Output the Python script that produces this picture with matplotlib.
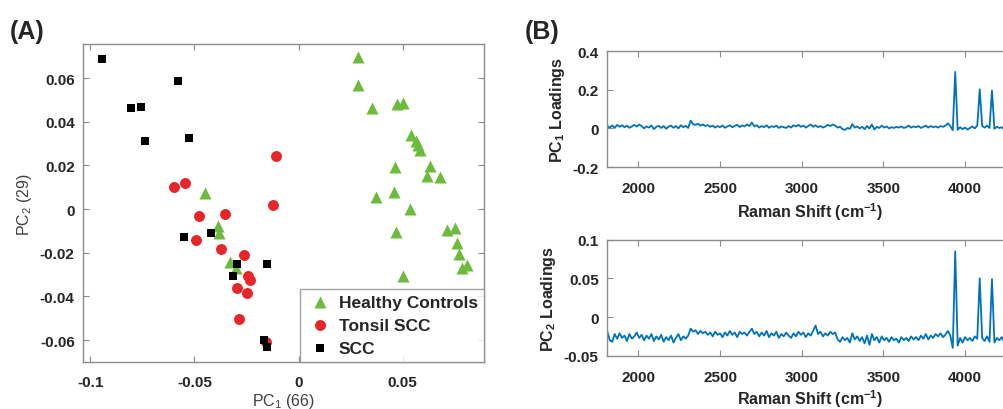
import numpy as np
import matplotlib
matplotlib.use('Agg')
import matplotlib.pyplot as plt

plt.rcParams['font.family'] = ['Liberation Sans', 'DejaVu Sans']
plt.rcParams['mathtext.fontset'] = 'custom'
plt.rcParams['mathtext.rm'] = 'Liberation Sans'
plt.rcParams['mathtext.bf'] = 'Liberation Sans:bold'

# PCA scores (PC1, PC2) per group
healthy_pc1 = [0.0285, 0.0284, 0.0354, 0.0472, 0.0499, 0.0540, 0.0564, 0.0574,
               0.0583, 0.0464, 0.0632, 0.0615, 0.0677, 0.0456, 0.0371, 0.0535,
               0.0470, 0.0714, 0.0750, 0.0759, 0.0768, 0.0782, 0.0809, 0.0499,
               -0.0449, -0.0386, -0.0381, -0.0331, -0.0301]
healthy_pc2 = [0.0696, 0.0567, 0.0463, 0.0481, 0.0487, 0.0338, 0.0313, 0.0294,
               0.0273, 0.0191, 0.0196, 0.0150, 0.0145, 0.0078, 0.0054, 0.0001,
               -0.0105, -0.0095, -0.0087, -0.0156, -0.0206, -0.0270, -0.0258, -0.0304,
               0.0073, -0.0079, -0.0110, -0.0240, -0.0270]

tonsil_pc1 = [-0.0108, -0.0121, -0.0599, -0.0543, -0.0477, -0.0354, -0.0494, -0.0373,
              -0.0263, -0.0244, -0.0234, -0.0295, -0.0249, -0.0288, -0.0158]
tonsil_pc2 = [0.0244, 0.0018, 0.0102, 0.0118, -0.0031, -0.0022, -0.0143, -0.0183,
              -0.0209, -0.0305, -0.0325, -0.0362, -0.0385, -0.0505, -0.0609]

scc_pc1 = [-0.0943, -0.0803, -0.0758, -0.0736, -0.0580, -0.0527, -0.0551, -0.0419,
           -0.0293, -0.0314, -0.0150, -0.0167, -0.0150]
scc_pc2 = [0.0686, 0.0463, 0.0466, 0.0313, 0.0588, 0.0324, -0.0127, -0.0108,
           -0.0249, -0.0305, -0.0249, -0.0597, -0.0631]

# loadings, sampled every 15 cm-1 from 1810 cm-1
shift_start = 1810
shift_step = 15
pc1_loadings = [
    0.012, 0.004, 0.015, 0.002, 0.018, 0.008, 0.016, 0.006, 0.014, 0.003,
    0.010, 0.018, 0.009, 0.020, 0.012, 0.000, 0.010, 0.004, 0.015, -0.004,
    0.008, 0.013, 0.002, 0.012, -0.002, 0.009, 0.014, 0.003, 0.012, 0.000,
    0.016, 0.006, 0.013, 0.002, 0.040, 0.022, 0.018, 0.024, 0.014, 0.020,
    0.012, 0.017, 0.008, 0.014, 0.004, 0.012, 0.006, 0.015, 0.003, 0.010,
    0.016, 0.006, 0.013, 0.018, 0.007, 0.015, 0.010, 0.020, 0.012, 0.030,
    0.010, 0.016, 0.004, 0.012, 0.006, 0.016, 0.003, 0.011, 0.007, 0.014,
    0.002, 0.010, 0.006, 0.002, 0.012, 0.004, 0.016, 0.010, 0.018, 0.008,
    0.014, 0.004, 0.012, 0.020, 0.008, 0.016, 0.006, 0.012, 0.004, 0.010,
    0.018, 0.012, 0.020, 0.014, 0.004, 0.008, -0.004, -0.008, 0.002, -0.002,
    0.022, 0.004, 0.010, 0.000, 0.008, -0.004, 0.012, 0.000, 0.020, -0.006,
    0.008, 0.002, 0.014, 0.004, 0.010, 0.000, 0.006, 0.002, 0.008, 0.004,
    0.010, 0.002, 0.006, 0.014, 0.004, 0.010, 0.006, 0.012, 0.002, 0.008,
    0.014, 0.004, 0.012, 0.006, 0.010, 0.004, 0.012, 0.008, 0.014, 0.026,
    0.012, -0.010, 0.292, -0.008, 0.006, -0.004, 0.004, -0.006, 0.002, 0.010,
    0.000, 0.014, 0.202, 0.012, 0.004, 0.014, 0.002, 0.196, -0.002, 0.008,
    0.002, 0.006, -0.006, 0.008, 0.000, 0.006]
pc2_loadings = [
    -0.019, -0.030, -0.032, -0.022, -0.028, -0.021, -0.027, -0.024, -0.031, -0.022,
    -0.028, -0.025, -0.020, -0.027, -0.023, -0.030, -0.024, -0.028, -0.022, -0.031,
    -0.025, -0.029, -0.023, -0.032, -0.026, -0.030, -0.024, -0.033, -0.027, -0.022,
    -0.030, -0.025, -0.028, -0.024, -0.015, -0.019, -0.017, -0.022, -0.018, -0.021,
    -0.019, -0.023, -0.020, -0.025, -0.019, -0.023, -0.021, -0.026, -0.020, -0.024,
    -0.018, -0.023, -0.020, -0.026, -0.019, -0.022, -0.020, -0.024, -0.019, -0.015,
    -0.022, -0.019, -0.025, -0.020, -0.024, -0.018, -0.026, -0.021, -0.024, -0.019,
    -0.027, -0.022, -0.025, -0.020, -0.024, -0.027, -0.021, -0.025, -0.019, -0.023,
    -0.020, -0.026, -0.021, -0.024, -0.018, -0.011, -0.022, -0.019, -0.025, -0.021,
    -0.024, -0.019, -0.022, -0.020, -0.029, -0.032, -0.026, -0.030, -0.027, -0.033,
    -0.021, -0.029, -0.025, -0.031, -0.026, -0.034, -0.024, -0.036, -0.022, -0.030,
    -0.026, -0.033, -0.025, -0.030, -0.027, -0.032, -0.026, -0.030, -0.028, -0.033,
    -0.026, -0.030, -0.027, -0.031, -0.025, -0.029, -0.026, -0.030, -0.024, -0.028,
    -0.022, -0.029, -0.024, -0.027, -0.022, -0.025, -0.021, -0.026, -0.023, -0.018,
    -0.024, -0.040, 0.085, -0.037, -0.027, -0.033, -0.026, -0.030, -0.027, -0.031,
    -0.025, -0.028, 0.050, -0.027, -0.031, -0.025, -0.032, 0.049, -0.033, -0.027,
    -0.030, -0.026, -0.032, -0.027, -0.030, -0.033]

text_col = '#262626'
spine_col = '#8c8c8c'
line_col = '#0072BD'


def style_axes(ax, xpad=7):
    for s in ax.spines.values():
        s.set_color(spine_col)
        s.set_linewidth(1.0)
    ax.tick_params(direction='in', length=4, width=0.8, color=spine_col,
                   top=True, right=True, labelsize=11, labelcolor=text_col)
    ax.tick_params(axis='x', pad=xpad)
    ax.tick_params(axis='y', pad=6)
    for lab in ax.get_xticklabels() + ax.get_yticklabels():
        lab.set_fontweight('bold')


fig = plt.figure(figsize=(10.04, 4.10), dpi=100)

# (A) score plot
ax = fig.add_axes([0.0827, 0.1146, 0.3994, 0.7756])
ax.scatter(healthy_pc1, healthy_pc2, marker='^', s=75, color='#6cbb3c',
           linewidths=0, label='Healthy Controls', zorder=3)
ax.scatter(tonsil_pc1, tonsil_pc2, marker='o', s=62, color='#e8262a',
           linewidths=0, label='Tonsil SCC', zorder=4)
ax.scatter(scc_pc1, scc_pc2, marker='s', s=36, color='black',
           linewidths=0, label='SCC', zorder=5)
ax.set_xlim(-0.1034, 0.089)
ax.set_ylim(-0.070, 0.0756)
ax.set_xticks([-0.1, -0.05, 0, 0.05])
ax.set_xticklabels(['-0.1', '-0.05', '0', '0.05'])
ax.set_yticks([-0.06, -0.04, -0.02, 0, 0.02, 0.04, 0.06])
ax.set_yticklabels(['-0.06', '-0.04', '-0.02', '0', '0.02', '0.04', '0.06'])
style_axes(ax, xpad=9)
ax.set_xlabel(r'PC$_1$ (66)', fontsize=11.5, color='#404040', labelpad=2)
ax.set_ylabel(r'PC$_2$ (29)', fontsize=11.5, color='#404040', labelpad=4)
leg = ax.legend(loc='lower right', borderaxespad=0, frameon=True, fancybox=False,
                edgecolor=spine_col, prop={'weight': 'bold', 'size': 12.5},
                handletextpad=0.3, borderpad=0.35, labelspacing=0.45,
                handlelength=1.6)
leg.get_frame().set_linewidth(1.0)
for t in leg.get_texts():
    t.set_color(text_col)
fig.text(0.010, 0.905, '(A)', fontsize=18, fontweight='bold', color=text_col)

# (B) loadings
shift = shift_start + shift_step * np.arange(len(pc1_loadings))
shift2 = shift_start + shift_step * np.arange(len(pc2_loadings))

ax1 = fig.add_axes([0.6046, 0.5902, 0.4044, 0.2829])
ax1.plot(shift, pc1_loadings, color=line_col, linewidth=1.3)
ax1.set_xlim(1808, 4294)
ax1.set_ylim(-0.2, 0.4)
ax1.set_yticks([-0.2, 0, 0.2, 0.4])
ax1.set_yticklabels(['-0.2', '0', '0.2', '0.4'])
ax1.set_xticks([2000, 2500, 3000, 3500, 4000])
style_axes(ax1, xpad=10)
ax1.set_xlabel(r'Raman Shift (cm$^{\mathbf{-1}}$)', fontsize=11.5,
               fontweight='bold', color=text_col, labelpad=4)
ax1.set_ylabel(r'PC$_{\mathbf{1}}$ Loadings', fontsize=11.5, fontweight='bold',
               color=text_col, labelpad=4)

ax2 = fig.add_axes([0.6046, 0.1300, 0.4044, 0.2829])
ax2.plot(shift2, pc2_loadings, color=line_col, linewidth=1.3)
ax2.set_xlim(1808, 4294)
ax2.set_ylim(-0.05, 0.1)
ax2.set_yticks([-0.05, 0, 0.05, 0.1])
ax2.set_yticklabels(['-0.05', '0', '0.05', '0.1'])
ax2.set_xticks([2000, 2500, 3000, 3500, 4000])
style_axes(ax2, xpad=10)
ax2.set_xlabel(r'Raman Shift (cm$^{\mathbf{-1}}$)', fontsize=11.5,
               fontweight='bold', color=text_col, labelpad=3)
ax2.set_ylabel(r'PC$_{\mathbf{2}}$ Loadings', fontsize=11.5, fontweight='bold',
               color=text_col, labelpad=4)
fig.text(0.523, 0.905, '(B)', fontsize=18, fontweight='bold', color=text_col)

fig.savefig('out.png', dpi=100)
